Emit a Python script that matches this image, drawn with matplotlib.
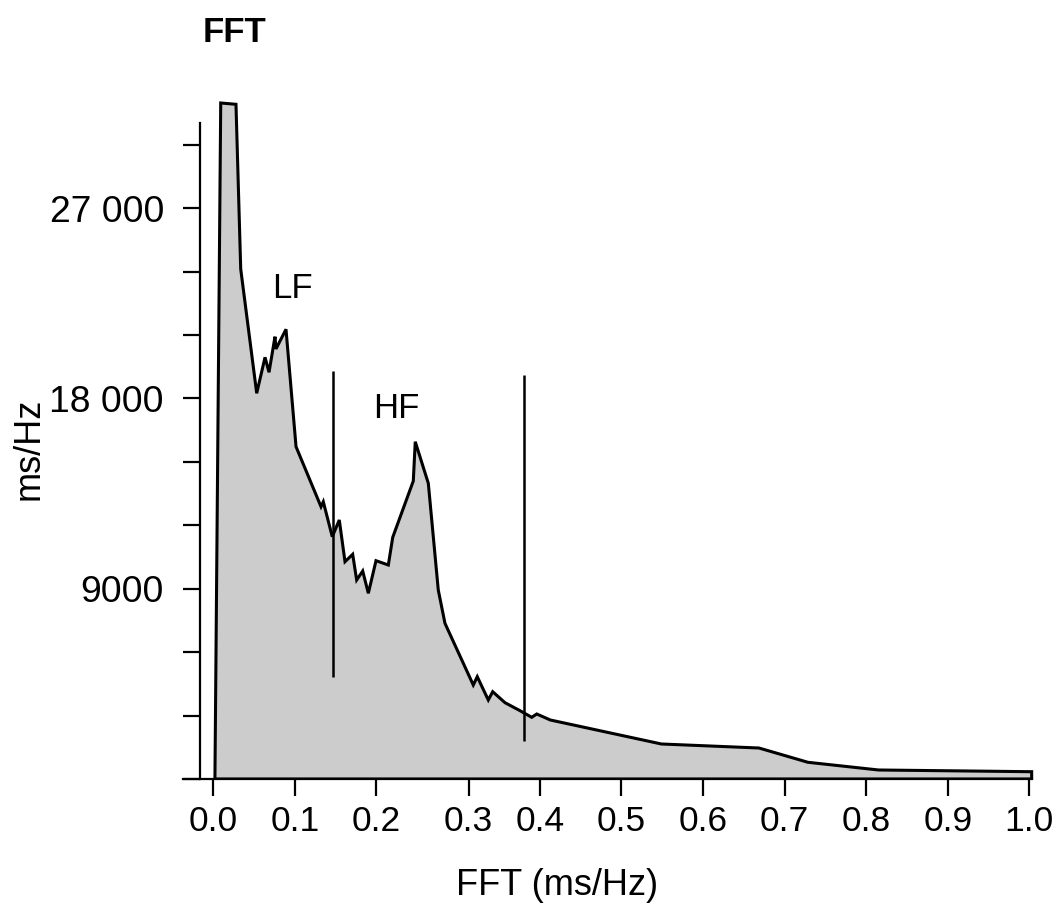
import numpy as np
import matplotlib
matplotlib.use("Agg")
import matplotlib.pyplot as plt

plt.rcParams['font.family'] = ['Liberation Sans', 'DejaVu Sans']

# spectrum
freq = [0.002, 0.0091, 0.0278, 0.0336, 0.0532, 0.0634, 0.0683, 0.0756, 0.0768, 0.0891,
        0.1014, 0.1320, 0.1348, 0.1458, 0.1544, 0.1614, 0.1708, 0.1757, 0.1831, 0.1900,
        0.1994, 0.2145, 0.2199, 0.2451, 0.2475, 0.2635, 0.2757, 0.2839, 0.3186, 0.3235,
        0.3370, 0.3424, 0.3575, 0.3759, 0.3902, 0.3964, 0.4130, 0.5491, 0.6687, 0.7287,
        0.8153, 1.0029, 1.0029]
power = [0, 31975, 31913, 24123, 18244, 19946, 19237, 20921, 20339, 21271,
         15718, 12880, 13116, 11461, 12251, 10278, 10628, 9413, 9838, 8784,
         10326, 10122, 11433, 14095, 15954, 13987, 8940, 7365, 4446, 4839,
         3737, 4129, 3609, 3231, 2918, 3075, 2791, 1656, 1466, 790,
         426, 345, 0]

# band boundaries (x, y bottom, y top)
band_x = [0.1463, 0.3808]
band_lo = [4840, 1800]
band_hi = [19310, 19110]

band_labels = ['LF', 'HF']
band_label_x = [0.0973, 0.2248]
band_label_y = [22740, 17060]

x_tick_pos = [0.0, 0.1, 0.2, 0.3128, 0.4, 0.5, 0.6, 0.7, 0.8, 0.9, 1.0]
x_tick_lab = ['0.0', '0.1', '0.2', '0.3', '0.4', '0.5', '0.6', '0.7', '0.8', '0.9', '1.0']
y_tick_pos = np.arange(0, 30001, 3000)
y_tick_lab = {9000: '9000', 18000: '18 000', 27000: '27 000'}

W, H = 1059, 905
fig = plt.figure(figsize=(W / 100, H / 100), dpi=100)
ax = fig.add_axes([180 / W, (H - 779) / H, 860 / W, 684 / H])

ax.fill(freq, power, facecolor='#cccccc', edgecolor='black', linewidth=2.2,
        joinstyle='miter', zorder=2)
ax.vlines(band_x, band_lo, band_hi, color='black', linewidth=1.8, zorder=3)

for t, bx, by in zip(band_labels, band_label_x, band_label_y):
    ax.text(bx, by, t, fontsize=25, ha='center', va='baseline')

ax.set_xlim(-0.0408, 1.0131)
ax.set_ylim(0, 32353)

ax.spines['top'].set_visible(False)
ax.spines['right'].set_visible(False)
ax.spines['left'].set_position(('data', -0.0163))
ax.spines['left'].set_bounds(0, 31030)
ax.spines['bottom'].set_bounds(-0.0371, 1.0033)
for s in ['left', 'bottom']:
    ax.spines[s].set_linewidth(1.6)

ax.set_xticks(x_tick_pos)
ax.set_xticklabels(x_tick_lab)
ax.set_yticks(y_tick_pos)
ax.set_yticklabels([y_tick_lab.get(int(v), '') for v in y_tick_pos])
ax.tick_params(axis='both', direction='out', length=12, width=1.6)
ax.tick_params(axis='x', pad=7, labelsize=25.5)
ax.tick_params(axis='y', pad=14, labelsize=26.8)

ax.set_xlabel('FFT (ms/Hz)', fontsize=26)
ax.xaxis.set_label_coords((557 - 180) / 860, (779 - 885) / 684)
ax.xaxis.label.set_verticalalignment('center')
ax.set_ylabel('ms/Hz', fontsize=26)
ax.yaxis.set_label_coords((29 - 180) / 860, (779 - 449) / 684)
ax.yaxis.label.set_verticalalignment('center')

fig.text(203 / W, 1 - 42 / H, 'FFT', fontsize=25, fontweight='bold',
         ha='left', va='baseline')

fig.savefig('out.png', dpi=100)
